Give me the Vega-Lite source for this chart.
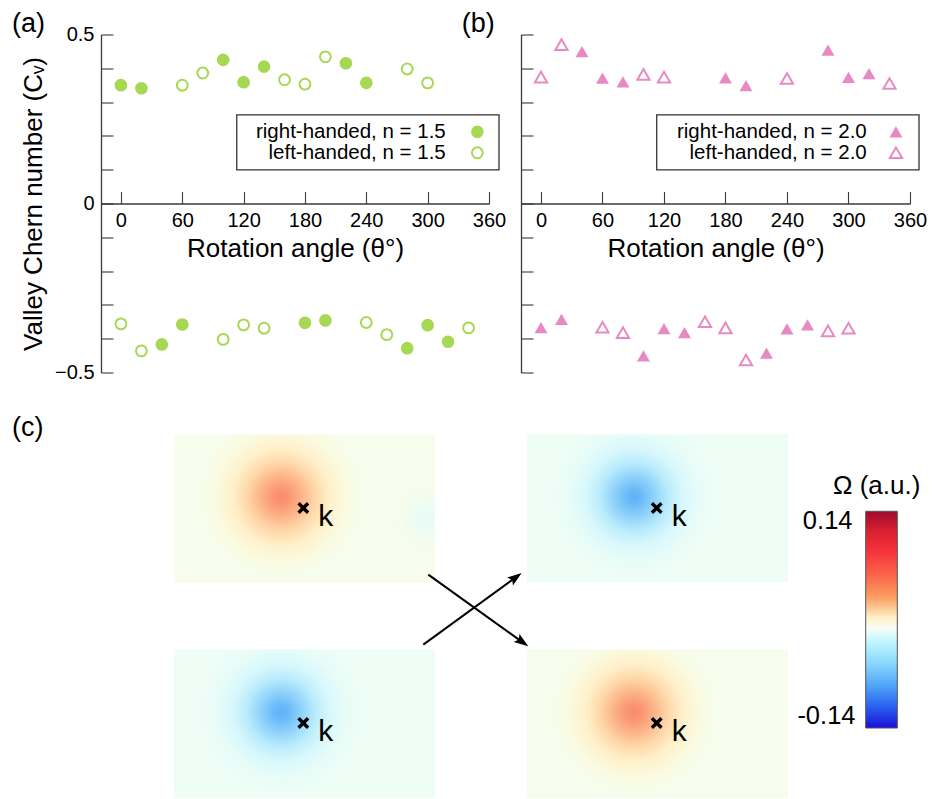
{
  "$schema": "https://vega.github.io/schema/vega-lite/v6.json",
  "padding": {"left": 12, "top": 9.5, "right": 5, "bottom": 0},
  "background": "white",
  "config": {
    "font": "Liberation Sans",
    "view": {"stroke": null},
    "axis": {"grid": false, "domainColor": "#3a3a3a", "domainWidth": 1.3, "tickColor": "#3a3a3a", "tickWidth": 1.1, "labelColor": "#000", "titleColor": "#000", "labelFont": "Liberation Sans", "titleFont": "Liberation Sans", "labelFontSize": 20, "titleFontSize": 26, "titleFontWeight": "normal", "labelFlush": false},
    "text": {"font": "Liberation Sans", "color": "#000"}
  },
  "datasets": {
    "a": [
      {"theta": 0, "cv": 0.350, "hand": "right"},
      {"theta": 20, "cv": 0.341, "hand": "right"},
      {"theta": 100, "cv": 0.425, "hand": "right"},
      {"theta": 120, "cv": 0.359, "hand": "right"},
      {"theta": 140, "cv": 0.405, "hand": "right"},
      {"theta": 220, "cv": 0.415, "hand": "right"},
      {"theta": 240, "cv": 0.357, "hand": "right"},
      {"theta": 40, "cv": -0.417, "hand": "right"},
      {"theta": 60, "cv": -0.358, "hand": "right"},
      {"theta": 180, "cv": -0.353, "hand": "right"},
      {"theta": 200, "cv": -0.346, "hand": "right"},
      {"theta": 280, "cv": -0.428, "hand": "right"},
      {"theta": 300, "cv": -0.360, "hand": "right"},
      {"theta": 320, "cv": -0.409, "hand": "right"},
      {"theta": 60, "cv": 0.350, "hand": "left"},
      {"theta": 80, "cv": 0.386, "hand": "left"},
      {"theta": 160, "cv": 0.366, "hand": "left"},
      {"theta": 180, "cv": 0.353, "hand": "left"},
      {"theta": 200, "cv": 0.434, "hand": "left"},
      {"theta": 280, "cv": 0.398, "hand": "left"},
      {"theta": 300, "cv": 0.357, "hand": "left"},
      {"theta": 0, "cv": -0.356, "hand": "left"},
      {"theta": 20, "cv": -0.436, "hand": "left"},
      {"theta": 100, "cv": -0.402, "hand": "left"},
      {"theta": 120, "cv": -0.359, "hand": "left"},
      {"theta": 140, "cv": -0.369, "hand": "left"},
      {"theta": 240, "cv": -0.352, "hand": "left"},
      {"theta": 260, "cv": -0.388, "hand": "left"},
      {"theta": 340, "cv": -0.368, "hand": "left"}
    ],
    "b": [
      {"theta": 40, "cv": 0.449, "hand": "right"},
      {"theta": 60, "cv": 0.371, "hand": "right"},
      {"theta": 80, "cv": 0.360, "hand": "right"},
      {"theta": 180, "cv": 0.372, "hand": "right"},
      {"theta": 200, "cv": 0.349, "hand": "right"},
      {"theta": 280, "cv": 0.454, "hand": "right"},
      {"theta": 300, "cv": 0.373, "hand": "right"},
      {"theta": 320, "cv": 0.384, "hand": "right"},
      {"theta": 0, "cv": -0.367, "hand": "right"},
      {"theta": 20, "cv": -0.343, "hand": "right"},
      {"theta": 100, "cv": -0.451, "hand": "right"},
      {"theta": 120, "cv": -0.370, "hand": "right"},
      {"theta": 140, "cv": -0.382, "hand": "right"},
      {"theta": 220, "cv": -0.443, "hand": "right"},
      {"theta": 240, "cv": -0.371, "hand": "right"},
      {"theta": 260, "cv": -0.359, "hand": "right"},
      {"theta": 0, "cv": 0.374, "hand": "left"},
      {"theta": 20, "cv": 0.470, "hand": "left"},
      {"theta": 100, "cv": 0.382, "hand": "left"},
      {"theta": 120, "cv": 0.374, "hand": "left"},
      {"theta": 240, "cv": 0.370, "hand": "left"},
      {"theta": 340, "cv": 0.355, "hand": "left"},
      {"theta": 60, "cv": -0.366, "hand": "left"},
      {"theta": 80, "cv": -0.382, "hand": "left"},
      {"theta": 160, "cv": -0.350, "hand": "left"},
      {"theta": 180, "cv": -0.368, "hand": "left"},
      {"theta": 200, "cv": -0.463, "hand": "left"},
      {"theta": 280, "cv": -0.377, "hand": "left"},
      {"theta": 300, "cv": -0.369, "hand": "left"}
    ],
    "legend_a_box": [{"theta": 113.3, "theta2": 369.8, "cv": 0.2624, "cv2": 0.0997}],
    "legend_a_text": [
      {"label": "right-handed, n = 1.5", "theta": 317.7, "cv": 0.2121},
      {"label": "left-handed, n = 1.5", "theta": 317.7, "cv": 0.150}
    ],
    "legend_a_sym": [
      {"hand": "right", "theta": 348.6, "cv": 0.2121},
      {"hand": "left", "theta": 348.6, "cv": 0.150}
    ],
    "legend_b_box": [{"theta": 112.9, "theta2": 368.8, "cv": 0.2624, "cv2": 0.0997}],
    "legend_b_text": [
      {"label": "right-handed, n = 2.0", "theta": 317.8, "cv": 0.2121},
      {"label": "left-handed, n = 2.0", "theta": 317.8, "cv": 0.150}
    ],
    "legend_b_sym": [
      {"hand": "right", "theta": 346.3, "cv": 0.2121},
      {"hand": "left", "theta": 346.3, "cv": 0.150}
    ],
    "tag_a": [{"label": "(a)", "theta": -106.5, "cv": 0.5317}],
    "tag_b": [{"label": "(b)", "theta": -77.4, "cv": 0.5317}],
    "maps": [
      {"map": "TL", "sign": "positive", "X": 73, "X2": 334, "Y": 23, "Y2": 171},
      {"map": "BL", "sign": "negative", "X": 73, "X2": 334, "Y": 238, "Y2": 387},
      {"map": "TR", "sign": "negative", "X": 426, "X2": 687, "Y": 23, "Y2": 171},
      {"map": "BR", "sign": "positive", "X": 426, "X2": 687, "Y": 238, "Y2": 387}
    ],
    "kpts": [
      {"map": "TL", "X": 202.3, "Y": 96.7, "label": "k"},
      {"map": "BL", "X": 202.3, "Y": 311.7, "label": "k"},
      {"map": "TR", "X": 555.7, "Y": 96.7, "label": "k"},
      {"map": "BR", "X": 555.7, "Y": 311.7, "label": "k"}
    ],
    "arrows": [
      {"id": "down", "X": 327.3, "Y": 163.3, "X2": 420.0, "Y2": 229.8},
      {"id": "up", "X": 322.3, "Y": 233.3, "X2": 413.4, "Y2": 167.0}
    ],
    "cbar": [{"X": 764.7, "X2": 796.3, "Y": 100, "Y2": 316.7}],
    "cbar_labels": [
      {"label": "0.14", "X": 751.5, "Y": 110},
      {"label": "-0.14", "X": 754.5, "Y": 305}
    ],
    "cbar_title": [{"label": "Ω (a.u.)", "X": 775.7, "Y": 75}],
    "tag_c": [{"label": "(c)", "X": -89, "Y": 17}]
  },
  "vconcat": [
    {
      "hconcat": [
        {
          "width": 388,
          "height": 338,
          "encoding": {
            "x": {"field": "theta", "type": "quantitative", "scale": {"domain": [-19.5, 360], "nice": false, "zero": false},
                  "axis": {"title": "Rotation angle (θ°)", "values": [0, 60, 120, 180, 240, 300, 360], "offset": -169, "tickSize": -12, "labelPadding": 19, "titlePadding": 5}},
            "y": {"field": "cv", "type": "quantitative", "scale": {"domain": [-0.5, 0.5], "nice": false, "zero": false},
                  "axis": {"title": "Valley Chern number (Cᵥ)", "values": [-0.5, -0.4, -0.3, -0.2, -0.1, 0, 0.1, 0.2, 0.3, 0.4, 0.5],
                           "labelExpr": "datum.value == 0.5 ? '0.5' : (datum.value == 0 ? '0' : (datum.value == -0.5 ? '\u22120.5' : ''))",
                           "tickSize": -12, "labelPadding": 19, "titlePadding": 8}}
          },
          "layer": [
            {"data": {"name": "a"}, "transform": [{"filter": "datum.hand == 'right'"}], "mark": {"type": "point", "shape": "circle", "filled": true, "size": 160, "color": "#a6d854", "opacity": 1}},
            {"data": {"name": "a"}, "transform": [{"filter": "datum.hand == 'left'"}], "mark": {"type": "point", "shape": "circle", "filled": false, "size": 118, "strokeWidth": 2, "color": "#a6d854", "opacity": 1}},
            {"data": {"name": "legend_a_box"}, "mark": {"type": "rect", "fill": "white", "fillOpacity": 0, "stroke": "#333", "strokeWidth": 1.3},
             "encoding": {"x2": {"field": "theta2"}, "y2": {"field": "cv2"}}},
            {"data": {"name": "legend_a_text"}, "mark": {"type": "text", "align": "right", "baseline": "middle", "fontSize": 20.5},
             "encoding": {"text": {"field": "label"}}},
            {"data": {"name": "legend_a_sym"}, "transform": [{"filter": "datum.hand == 'right'"}], "mark": {"type": "point", "shape": "circle", "filled": true, "size": 160, "color": "#a6d854", "opacity": 1}},
            {"data": {"name": "legend_a_sym"}, "transform": [{"filter": "datum.hand == 'left'"}], "mark": {"type": "point", "shape": "circle", "filled": false, "size": 118, "strokeWidth": 2, "color": "#a6d854", "opacity": 1}},
            {"data": {"name": "tag_a"}, "mark": {"type": "text", "align": "left", "baseline": "middle", "fontSize": 27},
             "encoding": {"text": {"field": "label"}}}
          ]
        },
        {
          "width": 389,
          "height": 338,
          "encoding": {
            "x": {"field": "theta", "type": "quantitative", "scale": {"domain": [-19.5, 360], "nice": false, "zero": false},
                  "axis": {"title": "Rotation angle (θ°)", "values": [0, 60, 120, 180, 240, 300, 360], "offset": -169, "tickSize": -12, "labelPadding": 19, "titlePadding": 5}},
            "y": {"field": "cv", "type": "quantitative", "scale": {"domain": [-0.5, 0.5], "nice": false, "zero": false},
                  "axis": {"title": null, "labels": false, "values": [-0.5, -0.4, -0.3, -0.2, -0.1, 0, 0.1, 0.2, 0.3, 0.4, 0.5], "tickSize": -12}}
          },
          "layer": [
            {"data": {"name": "b"}, "transform": [{"filter": "datum.hand == 'right'"}], "mark": {"type": "point", "shape": "triangle-up", "filled": true, "size": 169, "color": "#e78ac3", "opacity": 1}},
            {"data": {"name": "b"}, "transform": [{"filter": "datum.hand == 'left'"}], "mark": {"type": "point", "shape": "triangle-up", "filled": false, "size": 150, "strokeWidth": 2, "color": "#e78ac3", "opacity": 1}},
            {"data": {"name": "legend_b_box"}, "mark": {"type": "rect", "fill": "white", "fillOpacity": 0, "stroke": "#333", "strokeWidth": 1.3},
             "encoding": {"x2": {"field": "theta2"}, "y2": {"field": "cv2"}}},
            {"data": {"name": "legend_b_text"}, "mark": {"type": "text", "align": "right", "baseline": "middle", "fontSize": 20.5},
             "encoding": {"text": {"field": "label"}}},
            {"data": {"name": "legend_b_sym"}, "transform": [{"filter": "datum.hand == 'right'"}], "mark": {"type": "point", "shape": "triangle-up", "filled": true, "size": 169, "color": "#e78ac3", "opacity": 1}},
            {"data": {"name": "legend_b_sym"}, "transform": [{"filter": "datum.hand == 'left'"}], "mark": {"type": "point", "shape": "triangle-up", "filled": false, "size": 150, "strokeWidth": 2, "color": "#e78ac3", "opacity": 1}},
            {"data": {"name": "tag_b"}, "mark": {"type": "text", "align": "left", "baseline": "middle", "fontSize": 27},
             "encoding": {"text": {"field": "label"}}}
          ]
        }
      ],
      "spacing": 32,
      "bounds": "flush"
    },
    {
      "width": 820,
      "height": 389,
      "encoding": {
        "x": {"field": "X", "type": "quantitative", "scale": {"domain": [0, 820], "nice": false, "zero": false}, "axis": null},
        "y": {"field": "Y", "type": "quantitative", "scale": {"domain": [0, 389], "nice": false, "zero": false, "reverse": true}, "axis": null}
      },
      "layer": [
        {"data": {"name": "maps"}, "transform": [{"filter": "datum.sign == 'positive'"}],
         "mark": {"type": "rect", "strokeWidth": 0,
                  "fill": {"gradient": "radial", "x1": 0.41, "y1": 0.456, "r1": 0, "x2": 0.41, "y2": 0.456, "r2": 0.31,
                           "stops": [{"offset": 0, "color": "#f98a6c"}, {"offset": 0.1, "color": "#fa9673"}, {"offset": 0.25, "color": "#fcb487"}, {"offset": 0.42, "color": "#fed7a8"}, {"offset": 0.6, "color": "#fff0ca"}, {"offset": 0.8, "color": "#fafadf"}, {"offset": 1, "color": "#f7fdec"}]}},
         "encoding": {"x2": {"field": "X2"}, "y2": {"field": "Y2"}}},
        {"data": {"name": "maps"}, "transform": [{"filter": "datum.sign == 'negative'"}],
         "mark": {"type": "rect", "strokeWidth": 0,
                  "fill": {"gradient": "radial", "x1": 0.41, "y1": 0.456, "r1": 0, "x2": 0.41, "y2": 0.456, "r2": 0.31,
                           "stops": [{"offset": 0, "color": "#5fb2f7"}, {"offset": 0.1, "color": "#6cbbf8"}, {"offset": 0.25, "color": "#8fd2fa"}, {"offset": 0.42, "color": "#b8ebfc"}, {"offset": 0.6, "color": "#d8f8fc"}, {"offset": 0.8, "color": "#e7fcf8"}, {"offset": 1, "color": "#eefdf6"}]}},
         "encoding": {"x2": {"field": "X2"}, "y2": {"field": "Y2"}}},
        {"data": {"name": "maps"}, "transform": [{"filter": "datum.map == 'TL'"}],
         "mark": {"type": "rect", "strokeWidth": 0,
                  "fill": {"gradient": "radial", "x1": 0.97, "y1": 0.54, "r1": 0, "x2": 0.97, "y2": 0.54, "r2": 0.12,
                           "stops": [{"offset": 0, "color": "rgba(215,250,255,0.55)"}, {"offset": 1, "color": "rgba(215,250,255,0)"}]}},
         "encoding": {"x2": {"field": "X2"}, "y2": {"field": "Y2"}}},
        {"data": {"name": "kpts"},
         "mark": {"type": "point", "shape": "M-1,-0.6L-0.6,-1L0,-0.4L0.6,-1L1,-0.6L0.4,0L1,0.6L0.6,1L0,0.4L-0.6,1L-1,0.6L-0.4,0Z", "filled": true, "color": "#000", "size": 144, "opacity": 1}},
        {"data": {"name": "kpts"},
         "mark": {"type": "text", "align": "left", "baseline": "alphabetic", "dx": 15, "dy": 18, "fontSize": 30},
         "encoding": {"text": {"field": "label"}}},
        {"data": {"name": "arrows"},
         "mark": {"type": "rule", "color": "#000", "strokeWidth": 2},
         "encoding": {"x2": {"field": "X2"}, "y2": {"field": "Y2"}}},
        {"data": {"name": "arrows"}, "transform": [{"filter": "datum.id == 'down'"}],
         "mark": {"type": "point", "shape": "M0,-1L0.55,0.6L0,0.3L-0.55,0.6Z", "filled": true, "color": "#000", "size": 324, "opacity": 1, "angle": 125.6},
         "encoding": {"x": {"field": "X2", "type": "quantitative"}, "y": {"field": "Y2", "type": "quantitative"}}},
        {"data": {"name": "arrows"}, "transform": [{"filter": "datum.id == 'up'"}],
         "mark": {"type": "point", "shape": "M0,-1L0.55,0.6L0,0.3L-0.55,0.6Z", "filled": true, "color": "#000", "size": 324, "opacity": 1, "angle": 54},
         "encoding": {"x": {"field": "X2", "type": "quantitative"}, "y": {"field": "Y2", "type": "quantitative"}}},
        {"data": {"name": "cbar"},
         "mark": {"type": "rect", "stroke": "#555", "strokeWidth": 1,
                  "fill": {"gradient": "linear", "x1": 0, "y1": 0, "x2": 0, "y2": 1,
                           "stops": [{"offset": 0, "color": "#9e0a2c"}, {"offset": 0.08, "color": "#d41e30"}, {"offset": 0.18, "color": "#f5313c"}, {"offset": 0.3, "color": "#f9684a"}, {"offset": 0.4, "color": "#fca064"}, {"offset": 0.49, "color": "#fff0c4"}, {"offset": 0.54, "color": "#f8fcf8"}, {"offset": 0.6, "color": "#c2f6fe"}, {"offset": 0.7, "color": "#8ad8fd"}, {"offset": 0.8, "color": "#52a8f8"}, {"offset": 0.9, "color": "#2a62f0"}, {"offset": 1, "color": "#1a0ed8"}]}},
         "encoding": {"x2": {"field": "X2"}, "y2": {"field": "Y2"}}},
        {"data": {"name": "cbar_labels"}, "mark": {"type": "text", "align": "right", "baseline": "middle", "fontSize": 25.5},
         "encoding": {"text": {"field": "label"}}},
        {"data": {"name": "cbar_title"}, "mark": {"type": "text", "align": "center", "baseline": "middle", "fontSize": 26},
         "encoding": {"text": {"field": "label"}}},
        {"data": {"name": "tag_c"}, "mark": {"type": "text", "align": "left", "baseline": "middle", "fontSize": 27},
         "encoding": {"text": {"field": "label"}}}
      ]
    }
  ],
  "spacing": 28.8
}
